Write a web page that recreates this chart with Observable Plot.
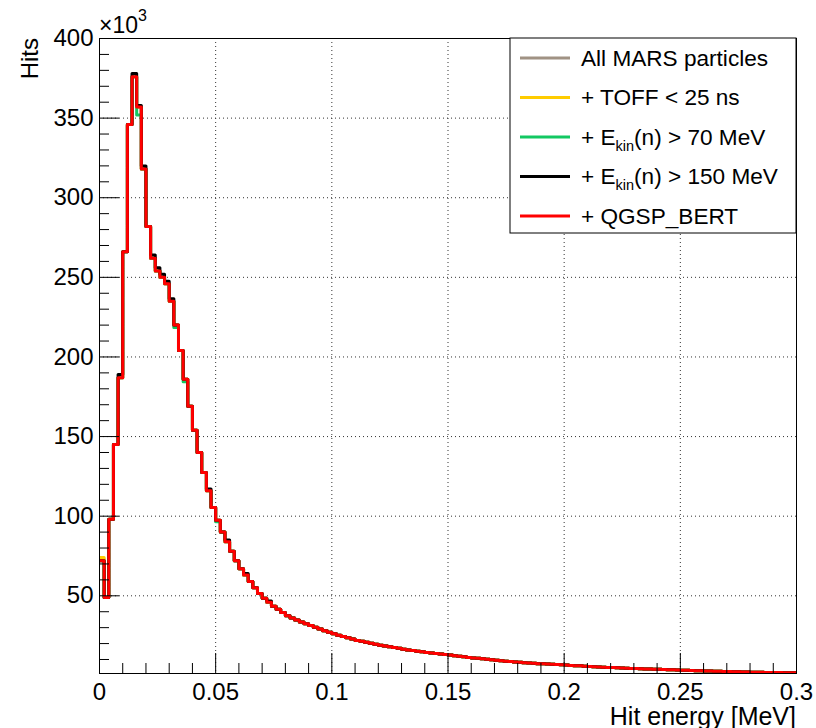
<!DOCTYPE html>
<html><head><meta charset="utf-8">
<script src="https://cdn.jsdelivr.net/npm/d3@7"></script>
<script src="https://cdn.jsdelivr.net/npm/@observablehq/plot@0.6"></script>
<style>html,body{margin:0;padding:0;background:#fff}</style>
</head><body><div id="chart"></div>
<script>
// Histogram: 150 bins of 0.002 MeV from 0 to 0.3 MeV; values in units of 10^3 hits
const binWidth = 0.002;
const seriesNames = ["All MARS particles", "+ TOFF < 25 ns", "+ Ekin(n) > 70 MeV", "+ Ekin(n) > 150 MeV", "+ QGSP_BERT"];
const seriesColors = ["#a09284", "#ffcc00", "#12c862", "#000000", "#ff0000"];

const hitsQgsp = [
72,49,98,145,187,266,346,376,357,318,
282,262,254,250,246,235,220,204,186,169,
154,140,127.5,116,105.5,97.5,90,84,78,72,
67,63,59,55,51.5,48.5,46,43.5,41.5,39.5,
37.5,36,34.8,33.6,32.4,31.3,30.2,29.1,28.1,27.1,
26.2,25.3,24.4,23.6,22.8,22,21.4,20.8,20.2,19.6,
19,18.5,18,17.5,17,16.5,16,15.6,15.2,14.8,
14.4,14,13.7,13.4,13.1,12.8,12.4,12,11.7,11.3,
11,10.7,10.4,10.1,9.8,9.5,9.2,8.95,8.7,8.45,
8.2,8,7.8,7.6,7.4,7.25,7.1,6.95,6.8,6.65,
6.5,6.3,6.1,6,5.8,5.6,5.5,5.3,5.2,5,
4.9,4.8,4.6,4.5,4.4,4.3,4.2,4.1,4,3.9,
3.8,3.7,3.6,3.5,3.4,3.3,3.2,3.1,3,2.9,
2.8,2.7,2.6,2.55,2.5,2.4,2.3,2.25,2.2,2.1,
2.05,2,1.95,1.9,1.85,1.8,1.75,1.7,1.65,1.6];

const hitsEkin150 = [
72,49,98,145,189,266,346,378,358,320,
282,264,256,252,247.5,236.5,220,204,186,169,
154,140,127.5,117,105.5,97.5,90,85,78,72,
67,64,59,55,51.5,48.5,46.8,43.5,41.5,39.5,
37.5,36,34.8,33.6,32.4,31.3,30.2,29.1,28.1,27.1,
26.2,25.3,24.4,23.6,22.8,22,21.4,20.8,20.2,19.6,
19,18.5,18,17.5,17,16.5,16,15.6,15.2,14.8,
14.4,14,13.7,13.4,13.1,12.8,12.4,12,11.7,11.3,
11,10.7,10.4,10.1,9.8,9.5,9.2,8.95,8.7,8.45,
8.2,8,7.8,7.6,7.4,7.25,7.1,6.95,6.8,6.65,
6.5,6.3,6.1,6,5.8,5.6,5.5,5.3,5.2,5,
4.9,4.8,4.6,4.5,4.4,4.3,4.2,4.1,4,3.9,
3.8,3.7,3.6,3.5,3.4,3.3,3.2,3.1,3,2.9,
2.8,2.7,2.6,2.55,2.5,2.4,2.3,2.25,2.2,2.1,
2.05,2,1.95,1.9,1.85,1.8,1.75,1.7,1.65,1.6];

const hitsEkin70 = [
72,49,98,145,187,266,346,376,352,318,
282,262,254,250,246,235,218.5,204,184.5,169,
154,140,127.5,116,105.5,96.5,90,84,78,72,
67,63,59,55,51.5,48.5,46,43.5,41.5,39.5,
37.5,36,34.8,33.6,32.4,31.3,30.2,29.1,28.1,27.1,
26.2,25.3,24.4,23.6,22.8,22,21.4,20.8,20.2,19.6,
19,18.5,18,17.5,17,16.5,16,15.6,15.2,14.8,
14.4,14,13.7,13.4,13.1,12.8,12.4,12,11.7,11.3,
11,10.7,10.4,10.1,9.8,9.5,9.2,8.95,8.7,8.45,
8.2,8,7.8,7.6,7.4,7.25,7.1,6.95,6.8,6.65,
6.5,6.3,6.1,6,5.8,5.6,5.5,5.3,5.2,5,
4.9,4.8,4.6,4.5,4.4,4.3,4.2,4.1,4,3.9,
3.8,3.7,3.6,3.5,3.4,3.3,3.2,3.1,3,2.9,
2.8,2.7,2.6,2.55,2.5,2.4,2.3,2.25,2.2,2.1,
2.05,2,1.95,1.9,1.85,1.8,1.75,1.7,1.65,1.6];

const hitsToff = [
74,49,98,145,187,266,346,376,357,318,
282,262,254,250,246,235,220,204,186,169,
154,140,127.5,116,105.5,97.5,90,84,78,72,
67,63,59,55,51.5,48.5,46,43.5,41.5,39.5,
37.5,36,34.8,33.6,32.4,31.3,30.2,29.1,28.1,27.1,
26.2,25.3,24.4,23.6,22.8,22,21.4,20.8,20.2,19.6,
19,18.5,18,17.5,17,16.5,16,15.6,15.2,14.8,
14.4,14,13.7,13.4,13.1,12.8,12.4,12,11.7,11.3,
11,10.7,10.4,10.1,9.8,9.5,9.2,8.95,8.7,8.45,
8.2,8,7.8,7.6,7.4,7.25,7.1,6.95,6.8,6.65,
6.5,6.3,6.1,6,5.8,5.6,5.5,5.3,5.2,5,
4.9,4.8,4.6,4.5,4.4,4.3,4.2,4.1,4,3.9,
3.8,3.7,3.6,3.5,3.4,3.3,3.2,3.1,3,2.9,
2.8,2.7,2.6,2.55,2.5,2.4,2.3,2.25,2.2,2.1,
2.05,2,1.95,1.9,1.85,1.8,1.75,1.7,1.65,1.6];

const hitsAll = [
73,49,98,145,187,266,346,376,357,318,
282,262,254,250,246,235,220,204,186,169,
154,140,127.5,116,105.5,97.5,90,84,78,72,
67,63,59,55,51.5,48.5,46,43.5,41.5,39.5,
37.5,36,34.8,33.6,32.4,31.3,30.2,29.1,28.1,27.1,
26.2,25.3,24.4,23.6,22.8,22,21.4,20.8,20.2,19.6,
19,18.5,18,17.5,17,16.5,16,15.6,15.2,14.8,
14.4,14,13.7,13.4,13.1,12.8,12.4,12,11.7,11.3,
11,10.7,10.4,10.1,9.8,9.5,9.2,8.95,8.7,8.45,
8.2,8,7.8,7.6,7.4,7.25,7.1,6.95,6.8,6.65,
6.5,6.3,6.1,6,5.8,5.6,5.5,5.3,5.2,5,
4.9,4.8,4.6,4.5,4.4,4.3,4.2,4.1,4,3.9,
3.8,3.7,3.6,3.5,3.4,3.3,3.2,3.1,3,2.9,
2.8,2.7,2.6,2.55,2.5,2.4,2.3,2.25,2.2,2.1,
2.05,2,1.95,1.9,1.85,1.8,1.75,1.7,1.65,1.6];

const xMajorTicks = [0, 0.05, 0.1, 0.15, 0.2, 0.25, 0.3];
const xMinorTicks = [0.01,0.02,0.03,0.04,0.06,0.07,0.08,0.09,0.11,0.12,0.13,0.14,0.16,0.17,0.18,0.19,0.21,0.22,0.23,0.24,0.26,0.27,0.28,0.29];
const yMajorTicks = [50, 100, 150, 200, 250, 300, 350, 400];
const yMinorTicks = [10,20,30,40,60,70,80,90,110,120,130,140,160,170,180,190,210,220,230,240,260,270,280,290,310,320,330,340,360,370,380,390];
const yGridTicks = [50, 100, 150, 200, 250, 300, 350];
const xGridTicks = [0.05, 0.1, 0.15, 0.2, 0.25];

// Legend labels: parts with optional subscript
const legendParts = [
  [["All MARS particles"]],
  [["+ TOFF < 25 ns"]],
  [["+ E"], ["kin", true], ["(n) > 70 MeV"]],
  [["+ E"], ["kin", true], ["(n) > 150 MeV"]],
  [["+ QGSP_BERT"]]
];

const seriesValues = [hitsAll, hitsToff, hitsEkin70, hitsEkin150, hitsQgsp];
const rows = [];
seriesValues.forEach((vals, s) => {
  vals.forEach((v, i) => rows.push({series: seriesNames[s], x: i * binWidth, y: v}));
  rows.push({series: seriesNames[s], x: vals.length * binWidth, y: vals[vals.length - 1]});
});

const W = 816, H = 728, mL = 99, mR = 20, mT = 38, mB = 55;
const fw = W - mL - mR, fh = H - mT - mB;
const FONT = "'Liberation Sans', Arial, Helvetica, sans-serif";

const chart = Plot.plot({
  width: W, height: H,
  marginLeft: mL, marginRight: mR, marginTop: mT, marginBottom: mB,
  style: {fontFamily: FONT, background: "white", color: "black", overflow: "visible"},
  x: {domain: [0, 0.3], label: null},
  y: {domain: [1.2, 400], label: null},
  color: {domain: seriesNames, range: seriesColors},
  marks: [
    Plot.gridX(xGridTicks, {stroke: "#333", strokeOpacity: 1, strokeDasharray: "1,3"}),
    Plot.gridY(yGridTicks, {stroke: "#333", strokeOpacity: 1, strokeDasharray: "1,3"}),
    Plot.line(rows, {x: "x", y: "y", z: "series", stroke: "series", curve: "step-after", strokeWidth: 3, clip: true}),
    Plot.tickY(yMinorTicks, {y: d => d, insetRight: fw - 10, stroke: "#000"}),
    Plot.tickY(yMajorTicks, {y: d => d, insetRight: fw - 20, stroke: "#000"}),
    Plot.tickX(xMinorTicks, {x: d => d, insetTop: fh - 10, stroke: "#000"}),
    Plot.tickX(xMajorTicks, {x: d => d, insetTop: fh - 20, stroke: "#000"}),
    Plot.frame({stroke: "black"}),
    Plot.axisX(xMajorTicks, {tickSize: 0, tickPadding: 9, fontSize: 24, tickFormat: d => String(d), label: null}),
    Plot.axisY(yMajorTicks, {tickSize: 0, tickPadding: 6, fontSize: 24, label: null})
  ]
});
document.getElementById("chart").appendChild(chart);

const svg = d3.select(chart);
// Axis titles and exponent
svg.append("text").attr("transform", "translate(38,38) rotate(-90)").attr("text-anchor", "end")
  .attr("font-size", 24).attr("font-family", FONT).attr("fill", "black").text("Hits");
svg.append("text").attr("x", 796).attr("y", 725).attr("text-anchor", "end")
  .attr("font-size", 25).attr("font-family", FONT).attr("fill", "black").text("Hit energy [MeV]");
const ex = svg.append("text").attr("x", 99).attr("y", 33).attr("text-anchor", "start")
  .attr("font-size", 23).attr("font-family", FONT).attr("fill", "black");
ex.append("tspan").text("\u00d710");
ex.append("tspan").attr("dy", -12).attr("font-size", 16).text("3");

// Legend
const lg = svg.append("g");
lg.append("rect").attr("x", 510).attr("y", 38).attr("width", 286).attr("height", 195)
  .attr("fill", "white").attr("stroke", "black").attr("stroke-width", 1);
legendParts.forEach((parts, i) => {
  const cy = 58 + i * 39.5;
  lg.append("line").attr("x1", 520).attr("x2", 570).attr("y1", cy).attr("y2", cy)
    .attr("stroke", seriesColors[i]).attr("stroke-width", 3);
  const t = lg.append("text").attr("x", 581).attr("y", cy + 7.8).attr("text-anchor", "start")
    .attr("font-size", 22.6).attr("font-family", FONT).attr("fill", "black");
  let shifted = false;
  parts.forEach(([s, sub]) => {
    const ts = t.append("tspan").text(s);
    if (sub) { ts.attr("font-size", 14.5).attr("dy", 6); shifted = true; }
    else if (shifted) { ts.attr("dy", -6); shifted = false; }
  });
});
</script></body></html>
